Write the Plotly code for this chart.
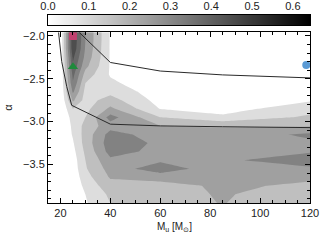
import plotly.graph_objects as go

# ---- data ----
mass_grid = [20, 25, 30, 40, 60, 85, 120]
alpha_grid = [-1.95, -2.05, -2.15, -2.25, -2.35, -2.45, -2.55, -2.65, -2.75, -2.85,
              -2.95, -3.05, -3.15, -3.25, -3.35, -3.45, -3.55, -3.65, -3.75, -3.85, -3.95]
# rows follow alpha_grid, columns follow mass_grid
density = [
    [0, 0.345, 0.200, 0.045, 0.000, 0.000, 0.000],
    [0, 0.345, 0.200, 0.045, 0.000, 0.000, 0.000],
    [0, 0.340, 0.195, 0.045, 0.000, 0.000, 0.000],
    [0, 0.310, 0.185, 0.045, 0.000, 0.000, 0.000],
    [0, 0.290, 0.165, 0.045, 0.000, 0.000, 0.000],
    [0, 0.265, 0.130, 0.045, 0.000, 0.000, 0.000],
    [0, 0.245, 0.100, 0.060, 0.010, 0.000, 0.000],
    [0, 0.210, 0.085, 0.085, 0.020, 0.000, 0.020],
    [0, 0.160, 0.080, 0.120, 0.030, 0.020, 0.045],
    [0, 0.100, 0.085, 0.160, 0.048, 0.030, 0.080],
    [0, 0.070, 0.100, 0.220, 0.100, 0.060, 0.110],
    [0, 0.060, 0.117, 0.180, 0.150, 0.145, 0.145],
    [0, 0.055, 0.120, 0.220, 0.175, 0.170, 0.210],
    [0, 0.045, 0.120, 0.230, 0.190, 0.180, 0.190],
    [0, 0.035, 0.110, 0.220, 0.185, 0.185, 0.195],
    [0, 0.025, 0.100, 0.190, 0.190, 0.190, 0.230],
    [0, 0.020, 0.095, 0.170, 0.230, 0.165, 0.190],
    [0, 0.015, 0.080, 0.155, 0.170, 0.160, 0.160],
    [0, 0.010, 0.065, 0.130, 0.130, 0.160, 0.140],
    [0, 0.010, 0.050, 0.110, 0.130, 0.155, 0.120],
    [0, 0.010, 0.045, 0.100, 0.130, 0.152, 0.110],
]
contour_levels = dict(start=0.05, end=0.35, size=0.05)
band_colors = ["#ffffff", "#dddddd", "#bfbfbf", "#a0a0a0", "#828282", "#686868", "#4e4e4e", "#353535"]

upper_curve_x = [27.2, 40, 60, 85, 120]
upper_curve_y = [-1.95, -2.31, -2.41, -2.455, -2.49]
lower_curve_x = [19.2, 20.5, 22.5, 24.5, 40, 60, 85, 120]
lower_curve_y = [-1.95, -2.30, -2.59, -2.81, -3.03, -3.05, -3.06, -3.07]

square_pt = (25, -2.0)
triangle_pt = (25, -2.36)
circle_pt = (118.5, -2.34)

cbar_range = [0.0, 0.642]
cbar_ticks = [0.0, 0.1, 0.2, 0.3, 0.4, 0.5, 0.6]
x_ticks = [20, 40, 60, 80, 100, 120]
y_ticks = [-3.5, -3.0, -2.5, -2.0]

# ---- figure ----
n = len(band_colors) - 1
band_scale = [[i / n, c] for i, c in enumerate(band_colors)]

fig = go.Figure()
fig.add_trace(go.Contour(
    x=mass_grid, y=alpha_grid, z=density,
    autocontour=False,
    contours=dict(coloring="fill", showlines=False, **contour_levels),
    line=dict(width=0, smoothing=0),
    colorscale=band_scale, showscale=False, hoverinfo="skip",
))
fig.add_trace(go.Scatter(x=upper_curve_x, y=upper_curve_y, mode="lines",
                         line=dict(color="#2a2a2a", width=1), hoverinfo="skip"))
fig.add_trace(go.Scatter(x=lower_curve_x, y=lower_curve_y, mode="lines",
                         line=dict(color="#2a2a2a", width=1), hoverinfo="skip"))
fig.add_trace(go.Scatter(x=[square_pt[0]], y=[square_pt[1]], mode="markers",
                         marker=dict(symbol="square", size=8, color="#c2416f")))
fig.add_trace(go.Scatter(x=[triangle_pt[0]], y=[triangle_pt[1]], mode="markers",
                         marker=dict(symbol="triangle-up", size=9, color="#1f8a3c")))
fig.add_trace(go.Scatter(x=[circle_pt[0]], y=[circle_pt[1]], mode="markers",
                         marker=dict(symbol="circle", size=8, color="#5b9bd5"), cliponaxis=False))

# colour bar drawn as its own strip
fig.add_trace(go.Heatmap(
    x=cbar_range, y=[0, 1], z=[cbar_range, cbar_range],
    colorscale=[[0, "#ffffff"], [1, "#000000"]], zsmooth="best",
    showscale=False, xaxis="x2", yaxis="y2", hoverinfo="skip",
))

axis_common = dict(showline=True, linecolor="black", linewidth=1, showgrid=False,
                   zeroline=False, ticks="inside", tickcolor="black", automargin=False)
fig.update_layout(
    template="none",
    width=320, height=240,
    margin=dict(l=48, r=9.5, t=15, b=36.5, autoexpand=False),
    paper_bgcolor="white", plot_bgcolor="white",
    showlegend=False,
    font=dict(family="Liberation Sans, Arial, sans-serif", size=11, color="#222"),
    xaxis=dict(domain=[0, 1], anchor="y", range=[15, 120], tickvals=x_ticks,
               ticklen=5, mirror="allticks", ticklabeloverflow="allow",
               minor=dict(tick0=0, dtick=5, ticks="inside", ticklen=3, tickcolor="black"),
               **axis_common),
    yaxis=dict(domain=[0, 0.907], anchor="x", range=[-3.95, -1.96], tickvals=y_ticks,
               tickformat=".1f", ticklen=5, mirror="allticks",
               minor=dict(tick0=0, dtick=0.1, ticks="inside", ticklen=3, tickcolor="black"),
               **axis_common),
    xaxis2=dict(domain=[0, 1], anchor="y2", range=cbar_range, side="top",
                tickvals=cbar_ticks, tickformat=".1f", ticks="", showline=True,
                linecolor="black", mirror=True, showgrid=False, zeroline=False,
                automargin=False, ticklabeloverflow="allow"),
    yaxis2=dict(domain=[0.947, 1.0], anchor="x2", range=[0, 1], showticklabels=False,
                ticks="", showline=True, linecolor="black", mirror=True,
                showgrid=False, zeroline=False, automargin=False),
    annotations=[
        dict(text="M<sub>u</sub> [M<sub>⊙</sub>]", xref="paper", yref="paper",
             x=0.484, y=-0.13, xanchor="center", yanchor="middle",
             showarrow=False, font=dict(size=10)),
        dict(text="α", xref="paper", yref="paper", x=-0.152, y=0.507,
             xanchor="center", yanchor="middle", textangle=-90,
             showarrow=False, font=dict(size=11)),
    ],
)

fig.write_html("out.html", config={"displayModeBar": False, "staticPlot": True},
               post_script="document.body.style.margin='0px';")
